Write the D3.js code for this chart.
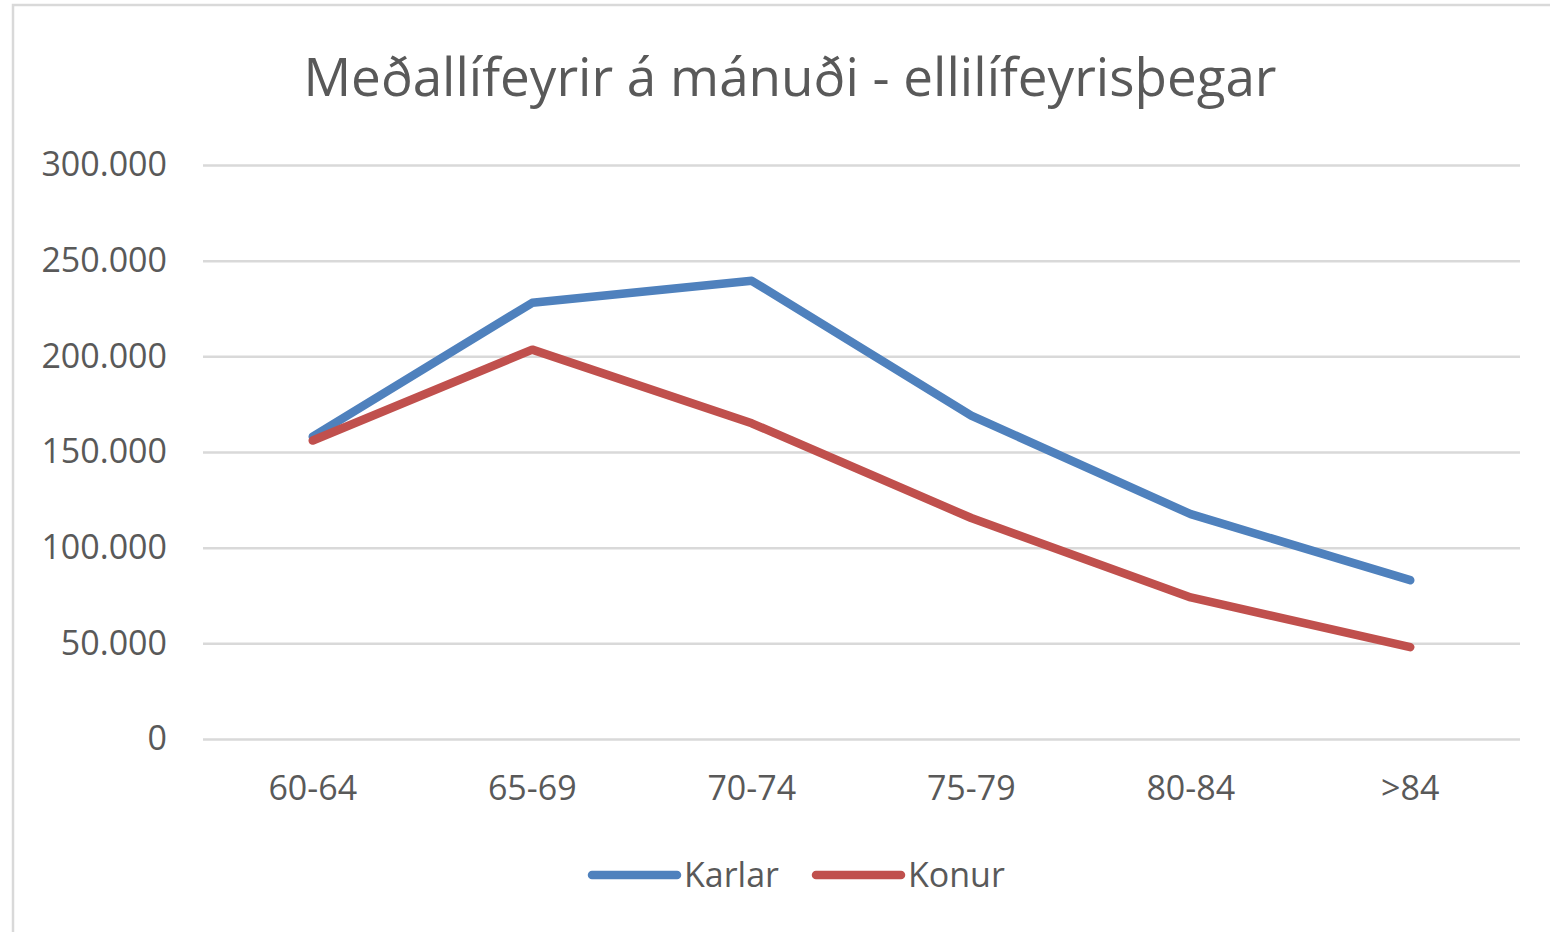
<!DOCTYPE html>
<html>
<head>
<meta charset="utf-8">
<script src="https://cdn.jsdelivr.net/npm/d3@7"></script>
<style>
  body { margin: 0; background: #fff; }
  text { font-family: "Open Sans", sans-serif; fill: #595959; }
</style>
</head>
<body>
<script>
// chart data
const categories = ['60-64', '65-69', '70-74', '75-79', '80-84', '>84'];
const karlar = [158000, 228000, 239500, 169000, 117500, 83000];
const konur = [156000, 203500, 165000, 115500, 74000, 48000];
const yTicks = [0, 50000, 100000, 150000, 200000, 250000, 300000];
const seriesNames = ['Karlar', 'Konur'];
const seriesColors = ['#4F81BD', '#C0504D'];
const title = 'Meðallífeyrir á mánuði - ellilífeyrisþegar';

const W = 1550;
const H = 932;
const margin = {
  top: 165, bottom: 193, left: 203, right: 30,
};
const width = W - margin.left - margin.right;
const height = H - margin.top - margin.bottom;

const svg = d3.select('body').append('svg')
  .attr('width', W)
  .attr('height', H);

// chart frame (only top and left edges show in the picture)
svg.append('rect')
  .attr('x', 13)
  .attr('y', 5)
  .attr('width', W)
  .attr('height', H)
  .attr('fill', 'none')
  .attr('stroke', '#d9d9d9')
  .attr('stroke-width', 2.5);

svg.append('text')
  .attr('x', 790)
  .attr('y', 96)
  .attr('text-anchor', 'middle')
  .style('font-size', '53px')
  .text(title);

const g = svg.append('g')
  .attr('transform', `translate(${margin.left},${margin.top})`);

const xscale = d3.scaleBand().domain(categories).range([0, width]);
const yscale = d3.scaleLinear().domain([0, 300000]).range([height, 0]);
const fmt = d => d3.format(',')(d).replace(/,/g, '.');

// y axis: gridlines + labels, no domain line
const yAxis = d3.axisLeft(yscale)
  .tickValues(yTicks)
  .tickSize(-width)
  .tickPadding(36)
  .tickFormat(fmt);
const gy = g.append('g').call(yAxis);
gy.select('.domain').remove();
gy.selectAll('.tick line').attr('stroke', '#d9d9d9').attr('stroke-width', 2.5);
gy.selectAll('.tick text').style('font-size', '34px').attr('fill', '#595959');

// x axis: labels only
const xAxis = d3.axisBottom(xscale).tickSize(0).tickPadding(37);
const gx = g.append('g').attr('transform', `translate(0,${height})`).call(xAxis);
gx.select('.domain').remove();
gx.selectAll('.tick text').style('font-size', '34px').attr('fill', '#595959');

const line = d3.line()
  .x((d, i) => xscale(categories[i]) + xscale.bandwidth() / 2)
  .y(d => yscale(d));

[karlar, konur].forEach((s, i) => {
  g.append('path')
    .datum(s)
    .attr('d', line)
    .attr('fill', 'none')
    .attr('stroke', seriesColors[i])
    .attr('stroke-width', 8.5)
    .attr('stroke-linecap', 'round')
    .attr('stroke-linejoin', 'round');
});

// legend
const legendX = [592, 816];
const legend = svg.append('g').attr('transform', 'translate(0,875)');
seriesNames.forEach((name, i) => {
  legend.append('line')
    .attr('x1', legendX[i])
    .attr('x2', legendX[i] + 85)
    .attr('stroke', seriesColors[i])
    .attr('stroke-width', 8.5)
    .attr('stroke-linecap', 'round');
  legend.append('text')
    .attr('x', legendX[i] + 92)
    .attr('y', 12)
    .style('font-size', '34px')
    .text(name);
});
</script>
</body>
</html>
